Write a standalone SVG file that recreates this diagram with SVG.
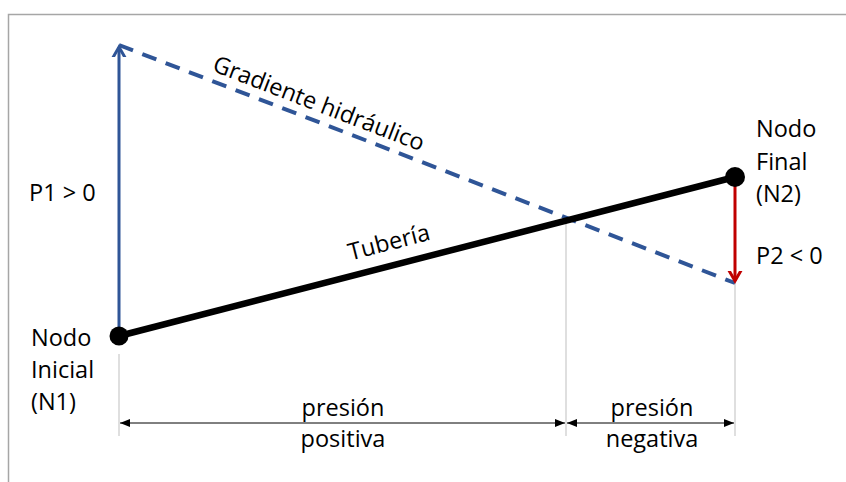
<svg xmlns="http://www.w3.org/2000/svg" width="846" height="482" viewBox="0 0 846 482">
<style>
text{font-family:"Open Sans","Liberation Sans",sans-serif;font-size:23.5px;fill:#000}
.mid{text-anchor:middle}
.gray{stroke:#bfbfbf;stroke-width:1;fill:none}
.dim{stroke:#000;stroke-width:1;fill:none;marker-start:url(#tri);marker-end:url(#tri)}
</style>
<defs>
<marker id="tri" viewBox="0 0 10 8" refX="10" refY="4" markerWidth="10" markerHeight="8" markerUnits="userSpaceOnUse" orient="auto-start-reverse">
<path d="M0,0 L10,4 L0,8 Z" fill="#000"/>
</marker>
<marker id="openBlue" viewBox="0 0 20 20" refX="10" refY="10" markerWidth="20" markerHeight="20" markerUnits="userSpaceOnUse" orient="auto">
<path d="M-4,2 L10,10 L-4,18" fill="none" stroke="#2f5597" stroke-width="3"/>
</marker>
<marker id="openRed" viewBox="0 0 20 20" refX="10" refY="10" markerWidth="20" markerHeight="20" markerUnits="userSpaceOnUse" orient="auto">
<path d="M-4,2 L10,10 L-4,18" fill="none" stroke="#c00000" stroke-width="3"/>
</marker>
</defs>
<path d="M8.5,482 V14.5 H846" fill="none" stroke="#a6a6a6" stroke-width="1.5"/>
<g id="connectors">
<line class="gray" x1="119" y1="354" x2="119" y2="436"/>
<line class="gray" x1="566" y1="220" x2="566" y2="436"/>
<line class="gray" x1="735" y1="283" x2="735" y2="436"/>
<line x1="119" y1="328" x2="119" y2="47" stroke="#2f5597" stroke-width="3" marker-end="url(#openBlue)"/>
<line x1="119" y1="45" x2="735" y2="283" stroke="#2f5597" stroke-width="4" stroke-dasharray="15,10"/>
<line x1="735" y1="186" x2="735" y2="281" stroke="#c00000" stroke-width="3" marker-end="url(#openRed)"/>
<line x1="119" y1="336" x2="735" y2="177" stroke="#000" stroke-width="6.5"/>
<line class="dim" x1="120" y1="423" x2="565" y2="423"/>
<line class="dim" x1="567" y1="423" x2="734" y2="423"/>
</g>
<g id="n1">
<circle cx="119" cy="336" r="9.5"/>
<text x="31" y="346">Nodo</text>
<text x="31" y="378">Inicial</text>
<text x="31" y="410">(N1)</text>
</g>
<g id="n2">
<circle cx="735" cy="177" r="10"/>
<text x="756" y="137">Nodo</text>
<text x="756" y="170">Final</text>
<text x="756" y="202">(N2)</text>
</g>
<g id="labels">
<text x="29" y="201">P1 &gt; 0</text>
<text x="756" y="264">P2 &lt; 0</text>
<text class="mid" transform="translate(316,111) rotate(21.1)">Gradiente hidráulico</text>
<text class="mid" transform="translate(391,250) rotate(-14.5)">Tubería</text>
<text class="mid" x="343" y="416">presión</text>
<text class="mid" x="343" y="447">positiva</text>
<text class="mid" x="652" y="416">presión</text>
<text class="mid" x="652" y="447">negativa</text>
</g>
</svg>
